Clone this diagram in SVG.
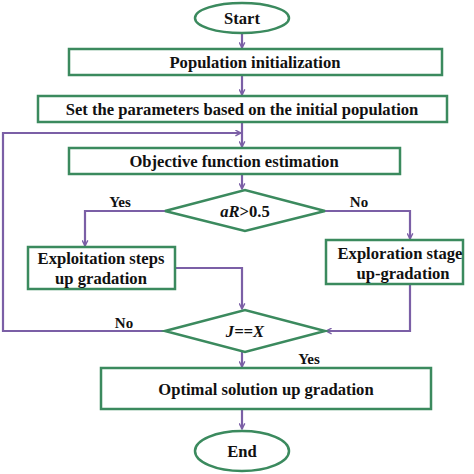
<svg xmlns="http://www.w3.org/2000/svg" width="474" height="474" viewBox="0 0 474 474">
<style>
.n{fill:#fff;stroke:#3b8a5e;stroke-width:2.5}
.t{font-family:"Liberation Serif","Times New Roman",serif;font-weight:bold;font-size:16.6px;fill:#111;text-anchor:middle}
.l{font-family:"Liberation Serif","Times New Roman",serif;font-weight:bold;font-size:15px;fill:#111;text-anchor:middle}
.c{fill:none;stroke:#7b5fa6;stroke-width:2.2}
</style>
<defs>
<marker id="a" viewBox="0 0 10 10" refX="9" refY="5" markerWidth="7" markerHeight="7" markerUnits="userSpaceOnUse" orient="auto">
<path d="M1,1 L9,5 L1,9" fill="none" stroke="#7b5fa6" stroke-width="2"/>
</marker>
</defs>
<rect width="474" height="474" fill="#fff"/>
<g id="connectors">
<path class="c" d="M242,33 V48" marker-end="url(#a)"/>
<path class="c" d="M242,76 V95" marker-end="url(#a)"/>
<path class="c" d="M242,123 V147" marker-end="url(#a)"/>
<path class="c" d="M242,175 V189" marker-end="url(#a)"/>
<path class="c" d="M165,211 H85 V246" marker-end="url(#a)"/>
<path class="c" d="M325,211 H410 V239" marker-end="url(#a)"/>
<path class="c" d="M175,268 H242 V309" marker-end="url(#a)"/>
<path class="c" d="M410,285 V331 H326" marker-end="url(#a)"/>
<path class="c" d="M165,331 H3 V133 H241" marker-end="url(#a)"/>
<path class="c" d="M242,352 V367" marker-end="url(#a)"/>
<path class="c" d="M242,410 V429" marker-end="url(#a)"/>
<text class="l" x="120" y="207">Yes</text>
<text class="l" x="359" y="207">No</text>
<text class="l" x="124" y="328">No</text>
<text class="l" x="309" y="364">Yes</text>
</g>
<g id="start"><ellipse class="n" cx="242" cy="18" rx="47" ry="15"/><text class="t" x="242" y="24">Start</text></g>
<g id="init"><rect class="n" x="69" y="49" width="373" height="26"/><text class="t" x="255" y="68">Population initialization</text></g>
<g id="params"><rect class="n" x="38" y="96" width="409" height="26"/><text class="t" x="242" y="115">Set the parameters based on the initial population</text></g>
<g id="objective"><rect class="n" x="69" y="148" width="331" height="26"/><text class="t" x="234" y="167">Objective function estimation</text></g>
<g id="d1"><polygon class="n" points="165,211 245,190 325,211 245,231"/><text class="t" x="245" y="217"><tspan font-style="italic">aR</tspan>&gt;0.5</text></g>
<g id="exploit"><rect class="n" x="28" y="247" width="147" height="42"/><text class="t" x="101" y="264">Exploitation steps</text><text class="t" x="101" y="284">up gradation</text></g>
<g id="explore"><rect class="n" x="326" y="240" width="137" height="44"/><text class="t" x="400" y="259">Exploration stage</text><text class="t" x="403" y="279">up-gradation</text></g>
<g id="d2"><polygon class="n" points="165,331 245,310 325,331 245,352"/><text class="t" x="245" y="337" font-style="italic">J==X</text></g>
<g id="optimal"><rect class="n" x="101" y="368" width="330" height="41" stroke-width="2"/><text class="t" x="266" y="395">Optimal solution up gradation</text></g>
<g id="end"><ellipse class="n" cx="242" cy="451" rx="47" ry="20"/><text class="t" x="242" y="457">End</text></g>
</svg>
